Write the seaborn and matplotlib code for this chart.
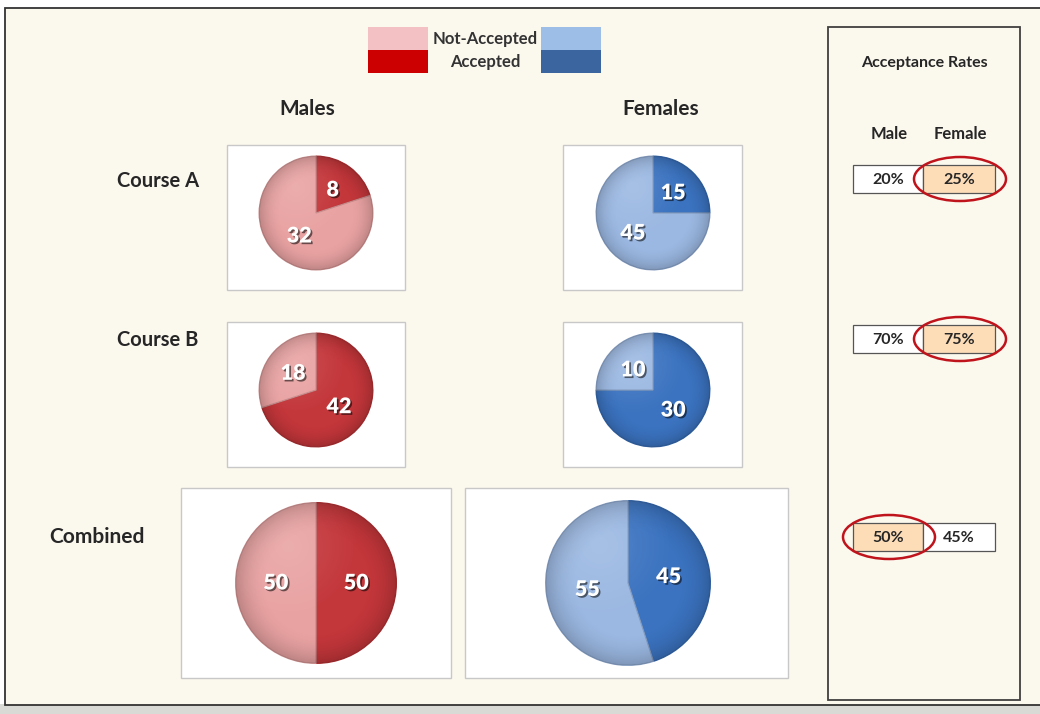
import numpy as np
import matplotlib
matplotlib.use("Agg")
import matplotlib.pyplot as plt
import matplotlib.patheffects as pe
from matplotlib.patches import Rectangle, Ellipse, Circle
import seaborn as sns

# Admission counts by course and sex
courses = ["Course A", "Course B"]
male_accepted = [8, 42]
male_rejected = [32, 18]
female_accepted = [15, 30]
female_rejected = [45, 10]

col_titles = ["Males", "Females"]
legend_labels = ["Not-Accepted", "Accepted"]
rate_headers = ["Male", "Female"]
panel_title = "Acceptance Rates"

sns.set_theme(style="white")
plt.rcParams["font.family"] = ["Lato", "DejaVu Sans"]

red_pal = sns.color_palette(["#E9A2A2", "#C3363A"])
blue_pal = sns.color_palette(["#9BB8E2", "#3B73C0"])
legend_red = ["#F3C1C3", "#CC0000"]
legend_blue = ["#9DBFE7", "#3A659E"]
cream = "#FBF8EE"
text_dark = "#262626"

W, H = 1040, 714
fig = plt.figure(figsize=(W / 100, H / 100), dpi=100)
fig.patch.set_facecolor("white")

bg = fig.add_axes([0, 0, 1, 1])
bg.set_xlim(0, W)
bg.set_ylim(H, 0)
bg.axis("off")

# page frame and bottom shadow
bg.add_patch(Rectangle((0, 704), W, 10, facecolor="#D9D9D6", edgecolor="none", zorder=0))
bg.add_patch(Rectangle((5, 8), W + 10, 697, facecolor=cream, edgecolor="#333333", lw=1.3, zorder=1))

# right-hand rates panel
bg.add_patch(Rectangle((828, 27), 192, 673, facecolor="none", edgecolor="#404040", lw=1.3, zorder=2))


def px_axes(cx, cy, r):
    return fig.add_axes([(cx - r) / W, 1 - (cy + r) / H, 2 * r / W, 2 * r / H])


def draw_pie(cx, cy, r, accepted, rejected, pal):
    ax = px_axes(cx, cy, r)
    vals = [accepted, rejected]
    cols = [pal[1], pal[0]]
    edge = [tuple(np.array(c) * 0.85) for c in cols]
    wedges, _, autotexts = ax.pie(
        vals, colors=cols, startangle=90, counterclock=False,
        autopct="", pctdistance=0.5, radius=1.0,
        wedgeprops=dict(linewidth=0.9, edgecolor="white"),
    )
    for w, e in zip(wedges, edge):
        w.set_edgecolor(e)
    # soft radial shading for a rounded look
    yy, xx = np.mgrid[-1:1:200j, -1:1:200j]
    rr = np.sqrt(xx ** 2 + yy ** 2)
    shade = np.zeros((200, 200, 4))
    shade[..., 3] = np.clip((rr - 0.6) / 0.4, 0, 1) ** 2 * 0.18
    im = ax.imshow(shade, extent=(-1, 1, -1, 1), zorder=3, interpolation="bilinear")
    im.set_clip_path(Circle((0, 0), 1.0, transform=ax.transData))
    hi = np.zeros((200, 200, 4))
    hi[..., :3] = 1.0
    hi[..., 3] = np.clip(1 - np.sqrt((xx + 0.35) ** 2 + (yy + 0.45) ** 2) / 0.9, 0, 1) * 0.12
    im2 = ax.imshow(hi, extent=(-1, 1, -1, 1), zorder=3, interpolation="bilinear")
    im2.set_clip_path(Circle((0, 0), 1.0, transform=ax.transData))
    for t, v in zip(autotexts, vals):
        t.set_text(str(v))
        t.set_color("white")
        t.set_fontsize(15.5)
        t.set_fontweight("heavy")
        t.set_zorder(5)
        t.set_path_effects([pe.SimplePatchShadow(offset=(1.2, -1.2), shadow_rgbFace="black", alpha=0.55),
                            pe.Normal()])
    ax.set_xlim(-1.02, 1.02)
    ax.set_ylim(-1.02, 1.02)
    ax.set_aspect("equal")
    ax.axis("off")


def panel_box(x0, y0, x1, y1):
    bg.add_patch(Rectangle((x0, y0), x1 - x0, y1 - y0, facecolor="white",
                           edgecolor="#C8C8C8", lw=1.0, zorder=2))


# course rows
row_y = [213, 390]
label_y = [181, 340]
for i, course in enumerate(courses):
    cy = row_y[i]
    panel_box(227, cy - 68, 405, cy + 77)
    panel_box(563, cy - 68, 742, cy + 77)
    draw_pie(316, cy, 58, male_accepted[i], male_rejected[i], red_pal)
    draw_pie(653, cy, 58, female_accepted[i], female_rejected[i], blue_pal)
    bg.text(158, label_y[i], course, ha="center", va="center", fontsize=14.5,
            fontweight="bold", color=text_dark, zorder=4)

# combined row
m_acc, m_rej = sum(male_accepted), sum(male_rejected)
f_acc, f_rej = sum(female_accepted), sum(female_rejected)
panel_box(181, 488, 451, 678)
panel_box(465, 488, 788, 678)
draw_pie(316, 583, 82, m_acc, m_rej, red_pal)
draw_pie(628, 583, 84, f_acc, f_rej, blue_pal)
bg.text(97, 537, "Combined", ha="center", va="center", fontsize=15,
        fontweight="bold", color=text_dark, zorder=4)

# column titles
bg.text(307, 109, col_titles[0], ha="center", va="center", fontsize=15,
        fontweight="bold", color=text_dark, zorder=4)
bg.text(661, 109, col_titles[1], ha="center", va="center", fontsize=15,
        fontweight="bold", color=text_dark, zorder=4)

# legend
for k, (yt, lab) in enumerate(zip([27, 50], legend_labels)):
    bg.add_patch(Rectangle((368, yt), 60, 23, facecolor=legend_red[k], edgecolor="none", zorder=3))
    bg.add_patch(Rectangle((541, yt), 60, 23, facecolor=legend_blue[k], edgecolor="none", zorder=3))
    bg.text(485, yt + 12, lab, ha="center", va="center", fontsize=12,
            fontweight="bold", color="#333333", zorder=4)

# acceptance rate table
bg.text(924, 63, panel_title, ha="center", va="center", fontsize=11.5,
        fontweight="bold", color=text_dark, zorder=4)
bg.text(889, 134, rate_headers[0], ha="center", va="center", fontsize=12,
        fontweight="bold", color=text_dark, zorder=4)
bg.text(960, 134, rate_headers[1], ha="center", va="center", fontsize=12,
        fontweight="bold", color=text_dark, zorder=4)

male_rates = [a / (a + r) for a, r in zip(male_accepted + [m_acc], male_rejected + [m_rej])]
female_rates = [a / (a + r) for a, r in zip(female_accepted + [f_acc], female_rejected + [f_rej])]
table_y = [179, 339, 537]
for yc, mr, fr in zip(table_y, male_rates, female_rates):
    m_hi = mr > fr
    for x0, x1, rate, hi in [(853, 923, mr, m_hi), (923, 995, fr, not m_hi)]:
        bg.add_patch(Rectangle((x0, yc - 14), x1 - x0, 28,
                               facecolor="#FCDDB8" if hi else "white",
                               edgecolor="#555555", lw=0.9, zorder=3))
        bg.text((x0 + x1) / 2, yc + 1, f"{rate:.0%}", ha="center", va="center",
                fontsize=11.5, fontweight="bold", color=text_dark, zorder=4)
        if hi:
            bg.add_patch(Ellipse(((x0 + x1) / 2 + 1, yc), 92, 44, facecolor="none",
                                 edgecolor="#C0141C", lw=1.8, zorder=5))

fig.savefig("out.png", dpi=100, facecolor="white")
